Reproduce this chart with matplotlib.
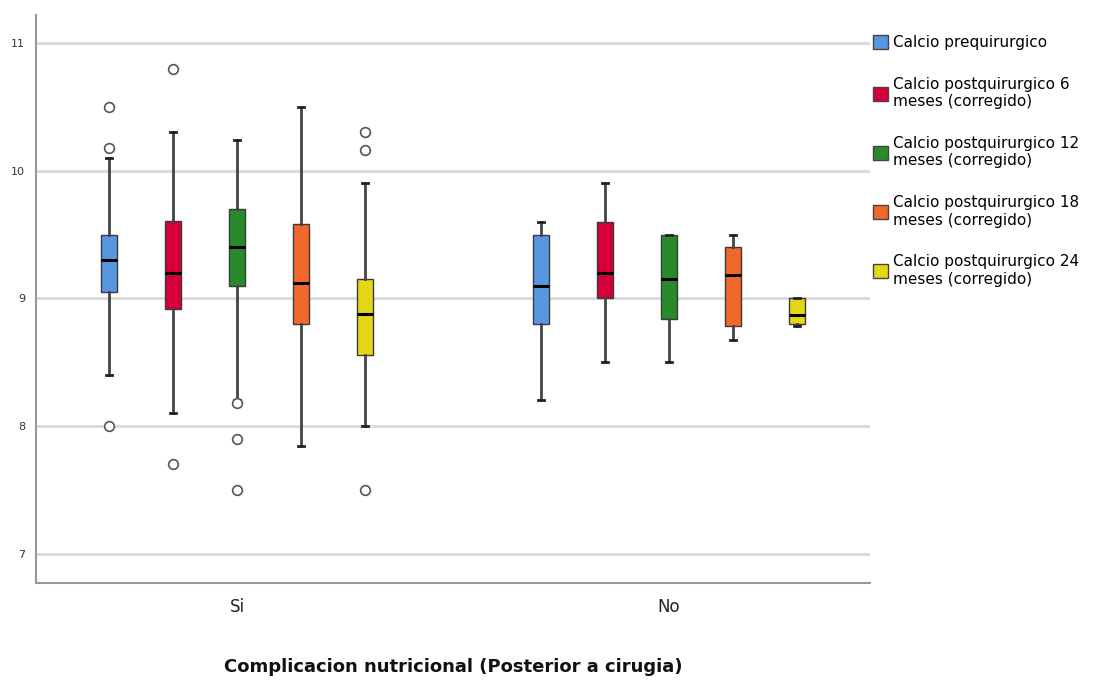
import matplotlib
matplotlib.use("Agg")
import matplotlib.pyplot as plt
from matplotlib.patches import Patch

# categories and series
groups = ["Si", "No"]
series = ["Calcio prequirurgico",
          "Calcio postquirurgico 6\nmeses (corregido)",
          "Calcio postquirurgico 12\nmeses (corregido)",
          "Calcio postquirurgico 18\nmeses (corregido)",
          "Calcio postquirurgico 24\nmeses (corregido)"]
colors = ["#5797E2", "#D5003A", "#288A2A", "#F2672A", "#E6D714"]

# box statistics (Si group)
si_lo = [8.40, 8.10, 8.20, 7.84, 8.00]
si_q1 = [9.05, 8.92, 9.10, 8.80, 8.56]
si_med = [9.30, 9.20, 9.40, 9.12, 8.88]
si_q3 = [9.50, 9.61, 9.70, 9.58, 9.15]
si_hi = [10.10, 10.30, 10.24, 10.50, 9.90]
si_out = [[10.50, 10.18, 8.00], [10.80, 7.70], [8.18, 7.90, 7.50], [], [10.30, 10.16, 7.50]]

# No group
no_lo = [8.20, 8.50, 8.50, 8.67, 8.78]
no_q1 = [8.80, 9.00, 8.84, 8.78, 8.80]
no_med = [9.10, 9.20, 9.15, 9.18, 8.87]
no_q3 = [9.50, 9.60, 9.50, 9.40, 9.00]
no_hi = [9.60, 9.90, 9.50, 9.50, 9.00]
no_out = [[], [], [], [], []]

yticks = [7, 8, 9, 10, 11]

fig = plt.figure(figsize=(11.11, 6.81), dpi=100)
ax = fig.add_axes([36/1111, 1-583/681, (870-36)/1111, (583-15)/681])

offset = 0.148
bw = 0.037
grp_stats = [(si_lo, si_q1, si_med, si_q3, si_hi, si_out),
             (no_lo, no_q1, no_med, no_q3, no_hi, no_out)]

for g, (lo, q1, med, q3, hi, out) in enumerate(grp_stats):
    for i in range(len(series)):
        st = [dict(whislo=lo[i], q1=q1[i], med=med[i], q3=q3[i], whishi=hi[i], fliers=out[i])]
        pos = g + (i - 2) * offset
        ax.bxp(st, positions=[pos], widths=bw, capwidths=bw*0.4, patch_artist=True,
               boxprops=dict(facecolor=colors[i], edgecolor="#3a3a3a", linewidth=1.0),
               medianprops=dict(color="black", linewidth=2.2),
               whiskerprops=dict(color="#444444", linewidth=2.0),
               capprops=dict(color="#222222", linewidth=2.0),
               flierprops=dict(marker="o", markerfacecolor="white", markeredgecolor="#555555",
                               markersize=7, markeredgewidth=1.2),
               zorder=3)

ax.set_xlim(-0.465, 1.465)
ax.set_ylim(6.77, 11.22)
ax.set_yticks(yticks)
ax.set_yticklabels([str(t) for t in yticks], fontsize=8, color="#333333")
ax.set_xticks([0, 1])
ax.set_xticklabels(groups, fontsize=12, color="#222222")
ax.tick_params(axis="both", length=0)
ax.tick_params(axis="x", pad=11)
ax.tick_params(axis="y", pad=8)
ax.yaxis.grid(True, color="#d9d9d9", linewidth=2.0, zorder=0)
ax.set_axisbelow(True)
for s in ["top", "right"]:
    ax.spines[s].set_visible(False)
for s in ["left", "bottom"]:
    ax.spines[s].set_color("#999999")
    ax.spines[s].set_linewidth(1.5)
ax.set_xlabel("Complicacion nutricional (Posterior a cirugia)", fontsize=13,
              fontweight="bold", labelpad=30, color="#111111")

handles = [Patch(facecolor=c, edgecolor="#444444", linewidth=1.0) for c in colors]
fig.legend(handles, series, loc="upper left", bbox_to_anchor=(867/1111, 1-29/681),
           frameon=False, fontsize=11, handlelength=1.0, handleheight=1.0,
           handletextpad=0.3, labelspacing=1.75, borderaxespad=0)

fig.savefig("out.png", dpi=100)
